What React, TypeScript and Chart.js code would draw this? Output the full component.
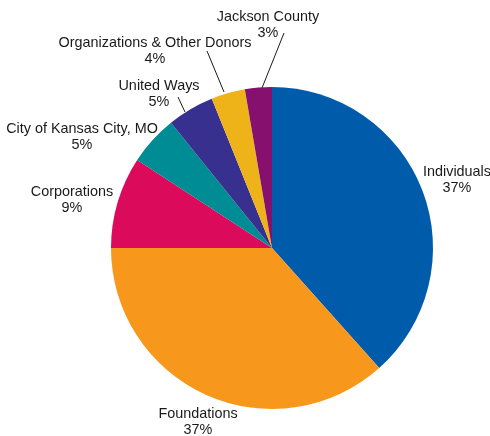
import React, { useEffect, useRef } from "react";
import { Chart, registerables } from "chart.js";

Chart.register(...registerables);

const categories = [
  "Individuals",
  "Foundations",
  "Corporations",
  "City of Kansas City, MO",
  "United Ways",
  "Organizations & Other Donors",
  "Jackson County",
];
const shares = [38.4, 36.6, 9.2, 5.0, 4.7, 3.4, 2.7];
const shownPercents = ["37%", "37%", "9%", "5%", "5%", "4%", "3%"];
const colors = ["#005BAA", "#F7981D", "#DB0A5B", "#008C95", "#37308F", "#EFB31A", "#86106E"];

// label layout: offsets from pie centre (px), optional leader line
const labelLayout = [
  { dx: 185, dy: -76, leader: null },
  { dx: -74, dy: 166, leader: null },
  { dx: -200, dy: -56, leader: null },
  { dx: -190, dy: -119, leader: null },
  { dx: -113, dy: -162, leader: [-94, -151, -87, -136] },
  { dx: -117, dy: -205, leader: [-65, -197, -48, -156] },
  { dx: -4, dy: -231, leader: [12, -215, -10, -160] },
];

const labelPlugin = {
  id: "pieLabels",
  afterDraw(chart: any) {
    const ctx = chart.ctx;
    const meta = chart.getDatasetMeta(0);
    const arc = meta.data[0];
    const cx = arc.x;
    const cy = arc.y;
    ctx.save();
    ctx.fillStyle = "#1a1a1a";
    ctx.strokeStyle = "#1a1a1a";
    ctx.lineWidth = 1;
    ctx.font = "14.4px 'Liberation Sans', Arial, sans-serif";
    ctx.textAlign = "center";
    ctx.textBaseline = "middle";
    categories.forEach((name, i) => {
      const l = labelLayout[i];
      ctx.fillText(name, cx + l.dx, cy + l.dy);
      ctx.fillText(shownPercents[i], cx + l.dx, cy + l.dy + 16);
      if (l.leader) {
        ctx.beginPath();
        ctx.moveTo(cx + l.leader[0], cy + l.leader[1]);
        ctx.lineTo(cx + l.leader[2], cy + l.leader[3]);
        ctx.stroke();
      }
    });
    ctx.restore();
  },
};

export default function App() {
  const ref = useRef<HTMLCanvasElement | null>(null);
  useEffect(() => {
    document.body.style.margin = "0";
    if (!ref.current) return;
    const chart = new Chart(ref.current, {
      type: "pie",
      data: {
        labels: categories,
        datasets: [
          {
            data: shares,
            backgroundColor: colors,
            borderWidth: 0,
          },
        ],
      },
      options: {
        animation: false,
        responsive: false,
        layout: { padding: { left: 111, right: 57, top: 87, bottom: 27 } },
        plugins: {
          legend: { display: false },
          tooltip: { enabled: false },
        },
      },
      plugins: [labelPlugin],
    });
    return () => chart.destroy();
  }, []);
  return (
    <div style={{ width: 490, height: 436, background: "#fff" }}>
      <canvas ref={ref} width={490} height={436} />
    </div>
  );
}
